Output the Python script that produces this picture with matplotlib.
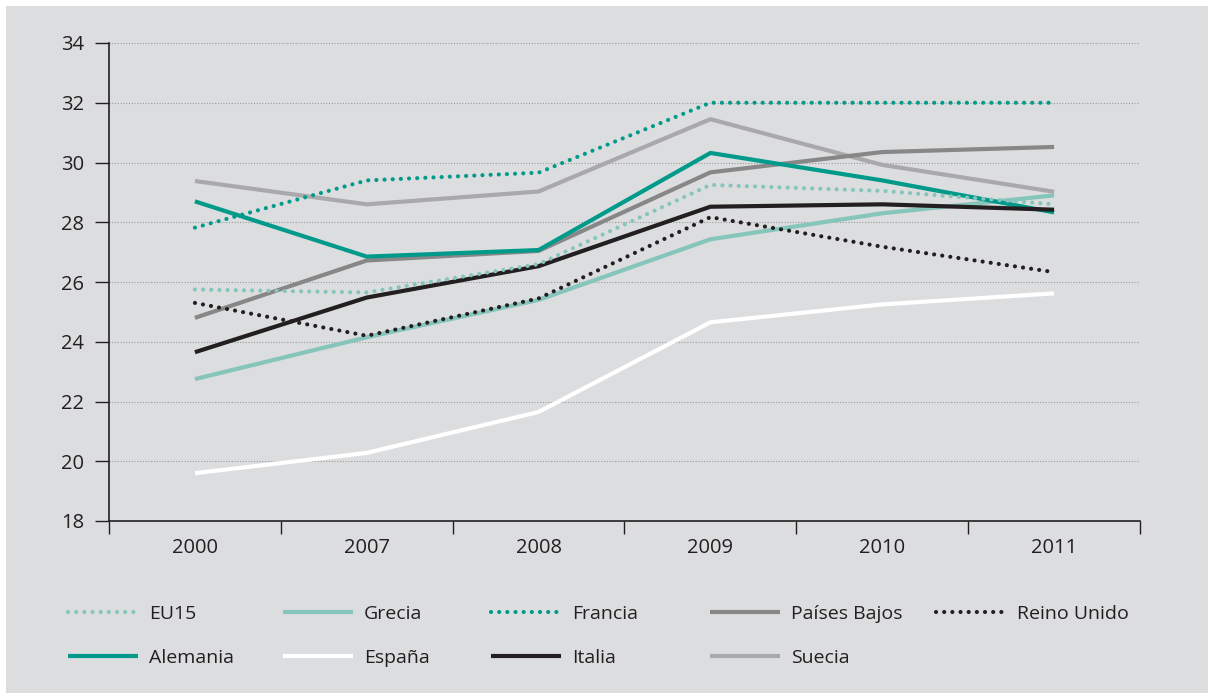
import matplotlib
matplotlib.use("Agg")
from matplotlib import pyplot as plt
from matplotlib.patches import Rectangle

plt.rcParams['font.family'] = ['Open Sans', 'DejaVu Sans']

# datos
years = ['2000', '2007', '2008', '2009', '2010', '2011']
eu15 = [25.75, 25.65, 26.6, 29.25, 29.05, 28.6]
grecia = [22.75, 24.15, 25.4, 27.43, 28.3, 28.9]
francia = [27.82, 29.4, 29.66, 32.0, 32.0, 32.0]
paises_bajos = [24.8, 26.72, 27.04, 29.67, 30.35, 30.52]
reino_unido = [25.3, 24.2, 25.45, 28.17, 27.18, 26.33]
alemania = [28.7, 26.85, 27.07, 30.32, 29.4, 28.33]
espana = [19.6, 20.28, 21.65, 24.65, 25.25, 25.62]
italia = [23.65, 25.48, 26.53, 28.52, 28.6, 28.42]
suecia = [29.38, 28.6, 29.03, 31.45, 29.92, 29.02]
y_ticks = [18, 20, 22, 24, 26, 28, 30, 32, 34]

BG = '#dcdddf'
TEAL = '#009a8a'
LTEAL = '#86c5bb'
DGRAY = '#878788'
LGRAY = '#a9a9ab'
BLACK = '#231f20'

fig = plt.figure(figsize=(12.08, 6.93), dpi=100, facecolor='white')
fig.patches.append(Rectangle((6 / 1208, 0), 1, 1 - 6 / 693, transform=fig.transFigure,
                             facecolor=BG, edgecolor='none', zorder=-10))
ax = fig.add_axes([109 / 1208, 1 - 521 / 693, 1031 / 1208, 478 / 693])
ax.set_facecolor('none')

x = list(range(len(years)))
dot = dict(linestyle=(0, (0.01, 1.95)), dash_capstyle='round', lw=3.0)
solid = dict(lw=3.0, solid_capstyle='butt')

# orden de dibujo: primero las de abajo
l_espana, = ax.plot(x, espana, color='white', label='España', **solid)
l_grecia, = ax.plot(x, grecia, color=LTEAL, label='Grecia', **solid)
l_suecia, = ax.plot(x, suecia, color=LGRAY, label='Suecia', **solid)
l_pb, = ax.plot(x, paises_bajos, color=DGRAY, label='Países Bajos', **solid)
l_alem, = ax.plot(x, alemania, color=TEAL, label='Alemania', **solid)
l_italia, = ax.plot(x, italia, color=BLACK, label='Italia', **solid)
l_eu15, = ax.plot(x, eu15, color=LTEAL, label='EU15', **dot)
l_fr, = ax.plot(x, francia, color=TEAL, label='Francia', **dot)
l_ru, = ax.plot(x, reino_unido, color=BLACK, label='Reino Unido', **dot)

ax.set_xlim(-0.5, len(years) - 0.5)
ax.set_ylim(18, 34)
ax.set_yticks(y_ticks)
ax.set_yticklabels([str(v) for v in y_ticks])
ax.set_xticks([i - 0.5 for i in range(len(years) + 1)])
ax.set_xticklabels([])
ax.set_xticks(x, minor=True)
ax.set_xticklabels(years, minor=True)
ax.tick_params(axis='x', which='major', length=9, width=1, color=BLACK, direction='out')
ax.tick_params(axis='x', which='minor', length=0, pad=12, labelsize=14.5, labelcolor=BLACK)
ax.tick_params(axis='y', length=10, width=1, color=BLACK, pad=8, labelsize=14.5, labelcolor=BLACK)

for s in ['top', 'right']:
    ax.spines[s].set_visible(False)
for s in ['left', 'bottom']:
    ax.spines[s].set_color(BLACK)
    ax.spines[s].set_linewidth(1.2)

for v in y_ticks[1:]:
    ax.axhline(v, color='#9a9a9a', lw=0.8, linestyle=(0, (1, 1.5)), zorder=0)

# leyenda en columnas
cols = [(l_eu15, l_alem), (l_grecia, l_espana), (l_fr, l_italia), (l_pb, l_suecia), (l_ru,)]
col_x = [68, 283, 491, 710, 936]
for hs, cx in zip(cols, col_x):
    fig.legend(handles=list(hs), loc='upper left',
               bbox_to_anchor=(cx / 1208, 1 - 605 / 693),
               frameon=False, handlelength=3.6, handletextpad=0.55,
               labelspacing=1.32, borderpad=0, borderaxespad=0,
               prop={'size': 14}, labelcolor=BLACK)

fig.savefig('out.png', dpi=100, facecolor='white')
